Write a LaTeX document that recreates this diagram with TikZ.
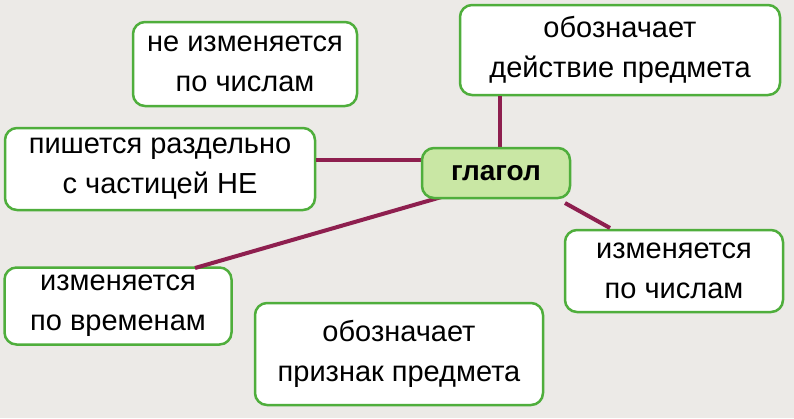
\documentclass[tikz,border=0pt]{standalone}
\usepackage{fontspec}
\setmainfont{Liberation Sans}
\definecolor{bg}{HTML}{ECEAE7}
\definecolor{gb}{HTML}{4FAE3C}
\definecolor{gf}{HTML}{C9E7A4}
\definecolor{ln}{HTML}{8E1F4F}
\begin{document}
\begin{tikzpicture}[x=1pt,y=-1pt,
 box/.style={draw=gb,line width=2.5pt,rounded corners=12pt,fill=white,align=center,font=\fontsize{29}{40}\selectfont,inner sep=0pt},
 con/.style={draw=ln,line width=4pt}]
\fill[bg] (0,0) rectangle (794,418);
\useasboundingbox (0,0) rectangle (794,418);
\node[box,minimum width=224,minimum height=84] (a) at (245,64) {не изменяется\\по числам};
\node[box,minimum width=320,minimum height=90] (b) at (620,50) {обозначает\\действие предмета};
\node[box,minimum width=310,minimum height=82] (c) at (160,169) {пишется раздельно\\с частицей НЕ};
\node[box,minimum width=218,minimum height=82] (e) at (674,271) {изменяется\\по числам};
\node[box,minimum width=227,minimum height=77] (f) at (118,306) {изменяется\\по временам};
\node[box,minimum width=288,minimum height=102] (g) at (399,354) {обозначает\\признак предмета};
\coordinate (p1) at (500,148);
\coordinate (p2) at (422,160);
\coordinate (p3) at (565,203);
\coordinate (p4) at (445,196);
\draw[con] (p1) -- (b.south -| p1);
\draw[con] (p2) -- (c.east |- p2);
\draw[con] (p3) -- (610,228) coordinate (q3);
\draw[con] (p4) -- (195,268) coordinate (q4);
\node[box,fill=gf,minimum width=148,minimum height=50,font=\fontsize{28}{34}\selectfont\bfseries] (v) at (496,173) {глагол};
\end{tikzpicture}
\end{document}
